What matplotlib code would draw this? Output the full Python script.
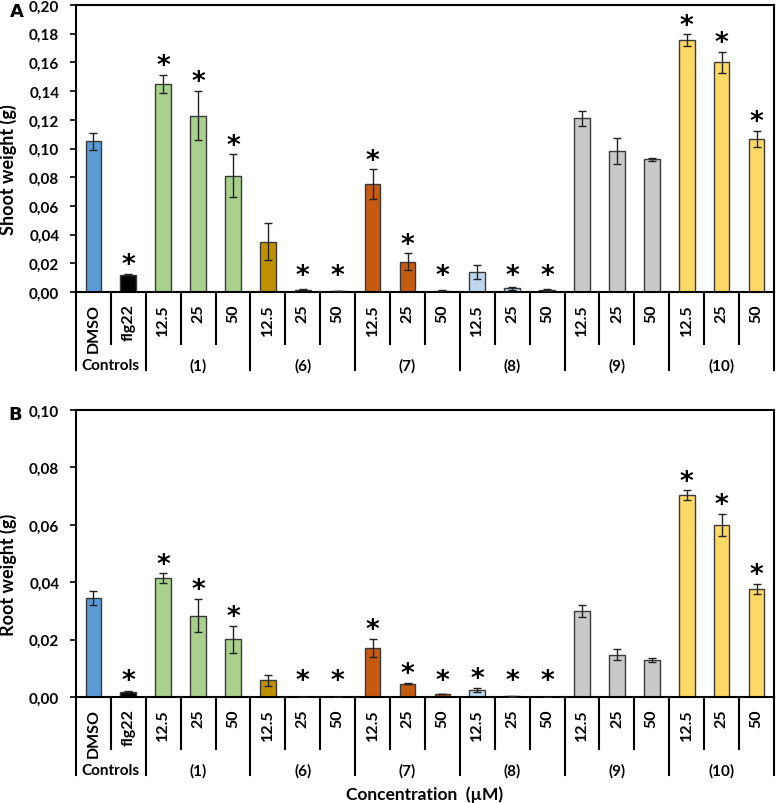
import matplotlib
matplotlib.use('Agg')
import matplotlib.pyplot as plt
import matplotlib.transforms as mtransforms
import numpy as np

plt.rcParams['font.family'] = ['Lato', 'DejaVu Sans']
plt.rcParams['font.weight'] = 'bold'

# categories
conc = ['DMSO', 'flg22',
        '12.5', '25', '50',
        '12.5', '25', '50',
        '12.5', '25', '50',
        '12.5', '25', '50',
        '12.5', '25', '50',
        '12.5', '25', '50']
groups = ['Controls', '(1)', '(6)', '(7)', '(8)', '(9)', '(10)']
group_sizes = [2, 3, 3, 3, 3, 3, 3]
colors = ['#5B9BD5', '#000000',
          '#A9D18E', '#A9D18E', '#A9D18E',
          '#BF9000', '#BF9000', '#BF9000',
          '#C55A11', '#C55A11', '#C55A11',
          '#BDD7EE', '#BDD7EE', '#BDD7EE',
          '#C9C9C9', '#C9C9C9', '#C9C9C9',
          '#FFD966', '#FFD966', '#FFD966']

# panel A: shoot weight (g)
shoot = [0.105, 0.012,
         0.145, 0.123, 0.081,
         0.035, 0.0015, 0.0007,
         0.075, 0.021, 0.001,
         0.014, 0.0025, 0.0015,
         0.121, 0.098, 0.0925,
         0.1755, 0.160, 0.1065]
shoot_err = [0.006, 0.0005,
             0.0065, 0.017, 0.015,
             0.013, 0.0003, 0.0002,
             0.0105, 0.006, 0.0002,
             0.005, 0.0008, 0.0005,
             0.005, 0.009, 0.001,
             0.004, 0.0075, 0.0057]
shoot_sig = [0, 1, 1, 1, 1, 0, 1, 1, 1, 1, 1, 0, 1, 1, 0, 0, 0, 1, 1, 1]

# panel B: root weight (g)
root = [0.0345, 0.0019,
        0.0415, 0.0283, 0.0202,
        0.0058, 0.0, 0.0,
        0.0171, 0.0047, 0.0011,
        0.0025, 0.0002, 0.0,
        0.0300, 0.0148, 0.0129,
        0.0704, 0.0600, 0.0376]
root_err = [0.0025, 0.0002,
            0.0016, 0.0058, 0.0047,
            0.0020, 0.0, 0.0,
            0.0031, 0.0002, 0.0001,
            0.0007, 0.0001, 0.0,
            0.0021, 0.0019, 0.0007,
            0.0016, 0.0039, 0.0018]
root_sig = [0, 1, 1, 1, 1, 0, 1, 1, 1, 1, 1, 1, 1, 1, 0, 0, 0, 1, 1, 1]

STAR_FS = 19


def panel(ax, vals, errs, sig, ymax, ylabel, show_xlabel=False):
    x = np.arange(len(vals))
    ax.bar(x, vals, width=0.45, color=colors, edgecolor='#3a3a3a', linewidth=1.0, zorder=2)
    ax.errorbar(x, vals, yerr=errs, fmt='none', ecolor='#222222', elinewidth=1.0,
                capsize=3, capthick=1.0, zorder=3)
    ax.set_xlim(-0.5, len(vals) - 0.5)
    ax.set_ylim(0, ymax)
    ticks = np.linspace(0, ymax, 6 if ymax < 0.15 else 11)
    ax.set_yticks(ticks)
    ax.set_yticklabels([f'{t:.2f}'.replace('.', ',') for t in ticks], fontsize=11, fontweight='bold')
    ax.tick_params(axis='y', direction='out', length=4, width=1.2, pad=8)
    ax.set_xticks(x)
    ax.set_xticklabels(conc, rotation=90, fontsize=11.5, fontweight='bold')
    ax.tick_params(axis='x', length=0, pad=8)
    for s in ax.spines.values():
        s.set_linewidth(1.5)
        s.set_color('black')

    # significance stars
    for xi, v, e, s in zip(x, vals, errs, sig):
        if s:
            y = max(v + e + 0.063 * ymax, 0.09 * ymax)
            ax.annotate('*', xy=(xi, y), xytext=(0, -0.62 * STAR_FS), textcoords='offset points',
                        ha='center', va='baseline', fontsize=STAR_FS, fontweight='bold',
                        family='DejaVu Sans', zorder=4)

    # divider lines below the axis
    trans = mtransforms.blended_transform_factory(ax.transData, ax.transAxes)
    bounds = np.cumsum([0] + group_sizes)
    for b in range(len(vals) + 1):
        depth = 0.272 if b in bounds else 0.181
        ax.plot([b - 0.5, b - 0.5], [0, -depth], color='black', lw=1.5,
                transform=trans, clip_on=False)
    for g, lo, hi in zip(groups, bounds[:-1], bounds[1:]):
        ax.text((lo + hi - 1) / 2, -0.255, g, transform=trans, ha='center', va='center',
                fontsize=11, fontweight='bold')

    ax.set_ylabel(ylabel, fontsize=13, fontweight='bold')
    ax.yaxis.set_label_coords(-0.085, 0.43)
    if show_xlabel:
        ax.text(0.5, -0.338, 'Concentration  (µM)', transform=ax.transAxes, ha='center',
                va='center', fontsize=12.5, fontweight='bold')


fig = plt.figure(figsize=(7.77, 8.04), dpi=100)
ax1 = fig.add_axes([0.0978, 0.6356, 0.8983, 0.3569])
ax2 = fig.add_axes([0.0978, 0.1318, 0.8983, 0.3570])

panel(ax1, shoot, shoot_err, shoot_sig, 0.20, 'Shoot weight (g)')
panel(ax2, root, root_err, root_sig, 0.10, 'Root weight (g)', show_xlabel=True)

fig.text(10 / 777, 1 - 12 / 804, 'A', fontsize=13, fontweight='bold', family='DejaVu Sans',
         ha='left', va='center')
fig.text(8 / 777, 1 - 415 / 804, 'B', fontsize=13, fontweight='bold', family='DejaVu Sans',
         ha='left', va='center')

fig.savefig('out.png', dpi=100)
